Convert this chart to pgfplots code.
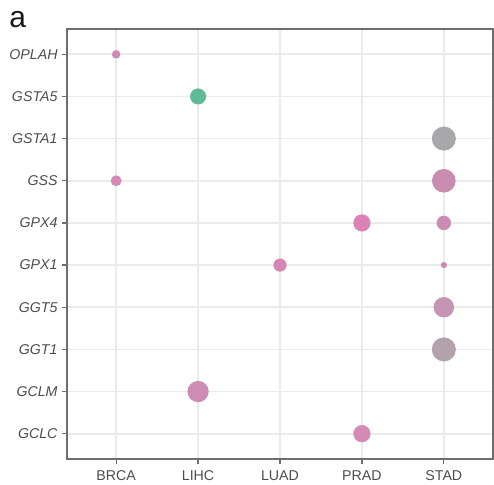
\documentclass[border=0pt]{standalone}
\usepackage{pgfplots}
\pgfplotsset{compat=1.18}
\usepackage{fontspec}
\setmainfont{Liberation Sans}
\definecolor{gridgray}{HTML}{EBEBEB}
\definecolor{framegray}{HTML}{6E6E6E}
\definecolor{labelgray}{HTML}{4D4D4D}
\definecolor{cgreen}{HTML}{5FBA98}
\definecolor{cgray}{HTML}{A8A8AA}
\definecolor{pinkA}{HTML}{CF8BB4}
\definecolor{pinkB}{HTML}{D589B6}
\definecolor{pinkC}{HTML}{C98DB0}
\definecolor{pinkD}{HTML}{DC82B8}
\definecolor{pinkE}{HTML}{CC8CB2}
\definecolor{pinkF}{HTML}{D486B4}
\definecolor{pinkG}{HTML}{D086B2}
\definecolor{mauveA}{HTML}{C495B2}
\definecolor{mauveB}{HTML}{B3A2AC}
\definecolor{pinkH}{HTML}{CC8CB3}
\definecolor{pinkI}{HTML}{D48AB6}
\begin{document}
\begin{tikzpicture}
\useasboundingbox (-33.5pt,-12.5pt) rectangle (213.5pt,229.5pt);
\begin{axis}[
  at={(0,0)}, anchor=south west,
  scale only axis, width=213pt, height=215pt,
  xmin=0.4, xmax=5.6, ymin=0.4, ymax=10.6,
  xtick={1,2,3,4,5},
  xticklabels={BRCA,LIHC,LUAD,PRAD,STAD},
  ytick={1,2,3,4,5,6,7,8,9,10},
  yticklabels={\textit{GCLC},\textit{GCLM},\textit{GGT1},\textit{GGT5},\textit{GPX1},\textit{GPX4},\textit{GSS},\textit{GSTA1},\textit{GSTA5},\textit{OPLAH}},
  xtick pos=lower, ytick pos=left,
  tick align=outside, major tick length=2.5pt,
  grid=major,
  major grid style={color=gridgray, line width=0.8pt},
  axis line style={color=framegray, line width=0.6pt},
  tick style={color=framegray, line width=0.6pt},
  tick label style={font=\fontsize{7.1}{8.5}\selectfont, text=labelgray},
  yticklabel style={xshift=1.3pt},
  clip=false,
]
\addplot[only marks, mark=*, mark size=1.9pt, color=pinkA] coordinates {(1,10)};
\addplot[only marks, mark=*, mark size=3.8pt, color=cgreen] coordinates {(2,9)};
\addplot[only marks, mark=*, mark size=5.8pt, color=cgray] coordinates {(5,8)};
\addplot[only marks, mark=*, mark size=2.5pt, color=pinkB] coordinates {(1,7)};
\addplot[only marks, mark=*, mark size=5.7pt, color=pinkC] coordinates {(5,7)};
\addplot[only marks, mark=*, mark size=4.1pt, color=pinkD] coordinates {(4,6)};
\addplot[only marks, mark=*, mark size=3.4pt, color=pinkE] coordinates {(5,6)};
\addplot[only marks, mark=*, mark size=3.1pt, color=pinkF] coordinates {(3,5)};
\addplot[only marks, mark=*, mark size=1.3pt, color=pinkG] coordinates {(5,5)};
\addplot[only marks, mark=*, mark size=4.9pt, color=mauveA] coordinates {(5,4)};
\addplot[only marks, mark=*, mark size=5.8pt, color=mauveB] coordinates {(5,3)};
\addplot[only marks, mark=*, mark size=5.1pt, color=pinkH] coordinates {(2,2)};
\addplot[only marks, mark=*, mark size=4.1pt, color=pinkI] coordinates {(4,1)};
\end{axis}
\node[anchor=base west, inner sep=0pt, font=\fontsize{15}{17}\selectfont, text=black!90] at (-29pt,215.8pt) {a};
\end{tikzpicture}
\end{document}
